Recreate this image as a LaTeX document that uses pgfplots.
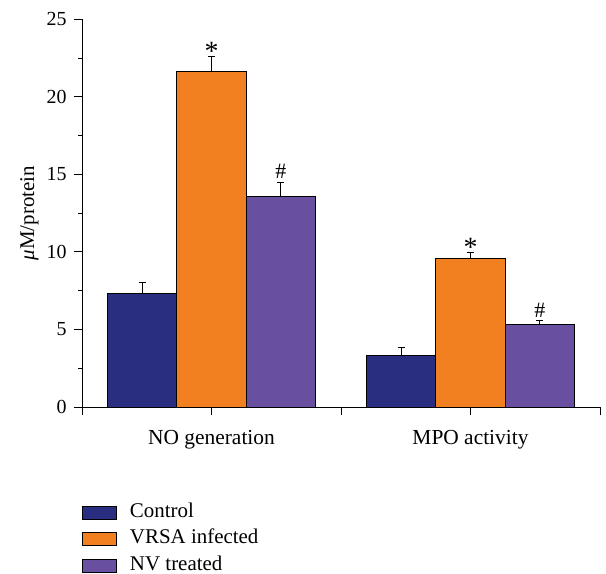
\documentclass[border=0pt]{standalone}
\usepackage{fontspec}
\setmainfont{Liberation Serif}
\usepackage{pgfplots}
\pgfplotsset{compat=1.18}
\definecolor{cctrl}{RGB}{42,46,128}
\definecolor{cvrsa}{RGB}{242,128,32}
\definecolor{cnv}{RGB}{104,79,160}
\pgfplotsset{
  mylegend/.style={legend image code/.code={\draw[##1,draw=black,line width=0.8bp] (0bp,-6.5bp) rectangle (34bp,6.5bp);}},
  mybar/.style={ybar, bar shift=0pt, bar width=0.268, draw=black, line width=0.8bp,
    error bars/y dir=plus, error bars/y explicit,
    error bars/error bar style={line width=0.9bp, black},
    error bars/error mark options={rotate=90, mark size=3.5bp, line width=0.9bp, black}},
}
\begin{document}
\begin{tikzpicture}
\path[use as bounding box] (-82bp,-167bp) rectangle (524bp,407bp);
\begin{axis}[
  at={(0,0)}, anchor=south west,
  scale only axis, width=518bp, height=387.7bp,
  xmin=0, xmax=2, ymin=0, ymax=25,
  axis x line*=bottom, axis y line*=left,
  axis line style={black, line width=1bp},
  tick align=outside,
  tick style={black, line width=1bp},
  xtick={0,0.5,1,1.5,2},
  xticklabels={,NO generation,,MPO activity,},
  xticklabel style={font=\fontsize{21.5}{24}\selectfont, yshift=-12bp},
  ytick={0,5,10,15,20,25},
  minor ytick={2.5,7.5,12.5,17.5,22.5},
  yticklabel style={xshift=-4bp},
  major tick length=8bp, minor tick length=3.5bp,
  font=\fontsize{20}{24}\selectfont,
  /pgf/number format/assume math mode=true,
  ylabel={{\itshape μ}M/protein},
  ylabel style={font=\fontsize{21}{24}\selectfont, yshift=1bp},
  legend style={draw=none, fill=none, inner sep=0pt, at={(0,0)}, anchor=north west, yshift=-92bp,
    font=\fontsize{21}{24}\selectfont,
    nodes={inner sep=0pt, text height=17.8bp, text depth=8.7bp},
    /tikz/every odd column/.append style={column sep=13bp}},
  legend cell align=left,
]
\addplot[mybar, fill=cctrl, mylegend] coordinates {(0.232,7.30) +- (0,0.74) (1.232,3.31) +- (0,0.56)};
\addplot[mybar, fill=cvrsa, mylegend] coordinates {(0.5,21.62) +- (0,0.97) (1.5,9.60) +- (0,0.37)};
\addplot[mybar, fill=cnv, mylegend] coordinates {(0.768,13.60) +- (0,0.90) (1.768,5.31) +- (0,0.25)};
\legend{Control, VRSA infected, NV treated}
\node[anchor=south, inner sep=0pt, yshift=-4bp, font=\fontsize{28}{30}\selectfont] at (axis cs:0.5,22.59) {*};
\node[anchor=south, inner sep=0pt, yshift=3bp, font=\fontsize{22}{24}\selectfont] at (axis cs:0.768,14.50) {\#};
\node[anchor=south, inner sep=0pt, yshift=-4bp, font=\fontsize{28}{30}\selectfont] at (axis cs:1.5,9.97) {*};
\node[anchor=south, inner sep=0pt, yshift=3bp, font=\fontsize{22}{24}\selectfont] at (axis cs:1.768,5.56) {\#};
\end{axis}
\end{tikzpicture}
\end{document}
